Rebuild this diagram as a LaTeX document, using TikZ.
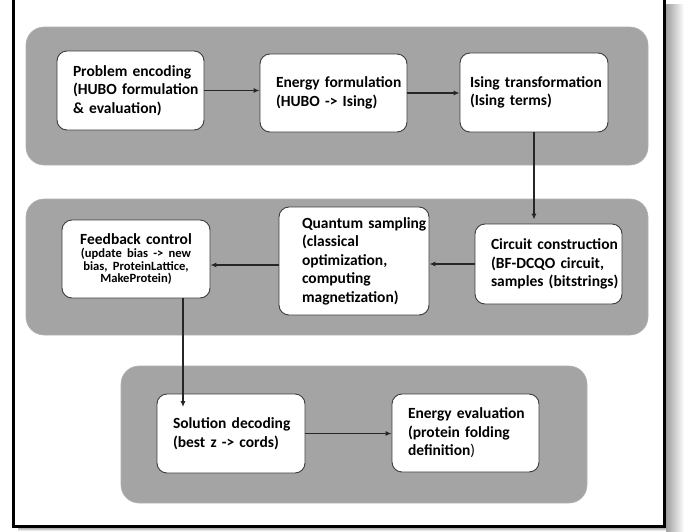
\documentclass[tikz,border=0pt]{standalone}
\usepackage{fontspec}
\setmainfont{Carlito}
\usetikzlibrary{arrows.meta}
\definecolor{bandgray}{RGB}{164,164,164}
\definecolor{boxedge}{RGB}{60,60,60}
\newcommand\Lx[1]{\mbox{#1}}
\newcommand\fcs{\fontsize{12.6}{12.4}\selectfont}
\begin{document}
\begin{tikzpicture}[x=1pt,y=-1pt,
  band/.style={fill=bandgray, draw=bandgray!85!white, line width=0.6pt, rounded corners=18pt},
  box/.style={draw=boxedge, fill=white, line width=0.9pt, rounded corners=10pt,
    align=left, inner ysep=2pt, font=\bfseries\fontsize{15.5}{18.5}\selectfont},
  flow/.style={-{Latex[length=6pt,width=5pt]}, line width=1.1pt, draw=black!85}]
\useasboundingbox (0,0) rectangle (686,531);
\fill[white] (0,0) rectangle (686,531);
% shadow of the frame
\shade[left color=black!40, right color=white] (665,4) rectangle (684,531);
\shade[top color=black!40, bottom color=white] (18,527) rectangle (666,531);
% frame
\draw[line width=3pt, black] (13.5,-10) -- (13.5,526.5) -- (664.5,526.5) -- (664.5,-10);
% bands
\path[band] (26,27) rectangle (648,165);
\path[band] (26,199) rectangle (648,335);
\path[band] (121,366) rectangle (587,503);
% boxes
\node[box, minimum width=147pt, minimum height=79pt, text width=115pt, inner xsep=16pt] (pe) at (130.5,90.5)
  {\Lx{Problem encoding}\\\Lx{(HUBO formulation}\\\Lx{\& evaluation)}};
\node[box, minimum width=147pt, minimum height=78pt, text width=115pt, inner xsep=16pt] (ef) at (333.5,93)
  {\Lx{Energy formulation}\\\Lx{(HUBO -> Ising)}};
\node[box, minimum width=148pt, minimum height=79pt, text width=128pt, inner xsep=10pt] (it) at (534,92.5)
  {\Lx{Ising transformation}\\\Lx{(Ising terms)}};
\node[box, minimum width=147pt, minimum height=80pt, text width=115pt, inner xsep=16pt] (cc) at (548.5,264)
  {\Lx{Circuit construction}\\\Lx{(BF-DCQO circuit,}\\\Lx{samples (bitstrings)}};
\node[box, minimum width=150pt, minimum height=108pt, text width=104pt, inner xsep=23pt] (qs) at (354,261)
  {\Lx{Quantum sampling}\\\Lx{(classical}\\\Lx{optimization,}\\\Lx{computing}\\\Lx{magnetization)}};
\node[box, align=center, minimum width=148pt, minimum height=78pt, text width=142pt, inner xsep=3pt] (fc) at (136,259)
  {Feedback control\par\vspace{1pt}{\fcs (update bias -> new\\bias, ProteinLattice,\\MakeProtein)\par}};
\node[box, minimum width=148pt, minimum height=79pt, text width=116pt, inner xsep=16pt] (sd) at (231,433.5)
  {\Lx{Solution decoding}\\\Lx{(best z -> cords)}};
\node[box, minimum width=147pt, minimum height=78pt, text width=115pt, inner xsep=16pt] (ee) at (465.5,433)
  {\Lx{Energy evaluation}\\\Lx{(protein folding}\\\Lx{definition\textmd{)}}};
% connectors
\coordinate (sdin) at (183,407);
\draw[flow] (pe.east) -- (pe.east -| ef.west);
\draw[flow] (ef.east) -- (ef.east -| it.west);
\draw[flow, shorten >=4pt] (it.south) -- (it.south |- cc.north);
\draw[flow] (cc.west |- 0,264) -- (qs.east |- 0,264);
\draw[flow] (qs.west |- 0,265) -- (fc.east |- 0,265);
\draw[flow] (fc.south -| sdin) -- (sdin);
\draw[flow] (sd.east) -- (sd.east -| ee.west);
\end{tikzpicture}
\end{document}
